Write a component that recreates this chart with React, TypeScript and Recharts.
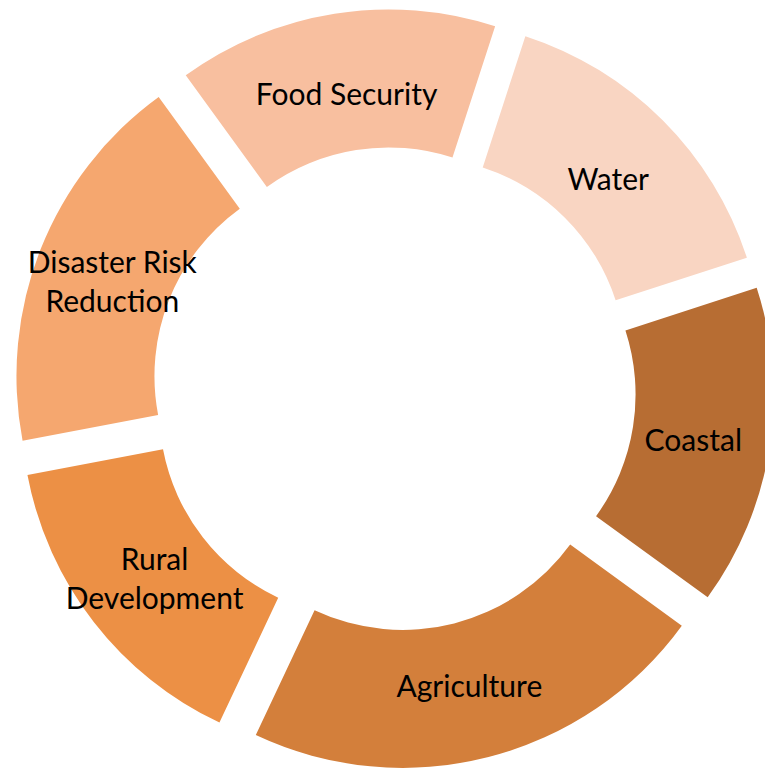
import { PieChart, Pie, Cell, Sector } from 'recharts';

// slices listed clockwise, starting just right of 12 o'clock
const categories = ['Water', 'Coastal', 'Agriculture', 'Rural Development', 'Disaster Risk Reduction', 'Food Security'];
const shares = [15, 15, 22, 15, 18, 15];
const labelLines = [['Water'], ['Coastal'], ['Agriculture'], ['Rural', 'Development'], ['Disaster Risk', 'Reduction'], ['Food Security']];
const colors = ['#F9D5C2', '#B76D33', '#D37F3B', '#EC9045', '#F5A76F', '#F8BF9F'];

const data = categories.map((name, i) => ({ name, value: shares[i] }));

const RADIAN = Math.PI / 180;
const EXPLODE = 35; // how far each slice is pulled out of the ring

const ExplodedSector = (props: any) => {
  const { cx, cy, midAngle, innerRadius, outerRadius, startAngle, endAngle, fill } = props;
  const dx = EXPLODE * Math.cos(-midAngle * RADIAN);
  const dy = EXPLODE * Math.sin(-midAngle * RADIAN);
  return (
    <Sector
      cx={cx + dx}
      cy={cy + dy}
      innerRadius={innerRadius}
      outerRadius={outerRadius}
      startAngle={startAngle}
      endAngle={endAngle}
      fill={fill}
      stroke="none"
    />
  );
};

const renderLabel = (props: any) => {
  const { cx, cy, midAngle, innerRadius, outerRadius, index } = props;
  const r = EXPLODE + (innerRadius + outerRadius) / 2 - 8;
  const x = cx + r * Math.cos(-midAngle * RADIAN);
  const y = cy + r * Math.sin(-midAngle * RADIAN) + 3;
  const lines = labelLines[index];
  const lineH = 39;
  const top = y - ((lines.length - 1) * lineH) / 2;
  return (
    <text
      x={x}
      y={top}
      textAnchor="middle"
      dominantBaseline="central"
      fill="#000"
      fontSize={30}
      fontFamily="Lato, 'Open Sans', sans-serif"
    >
      {lines.map((ln, i) => (
        <tspan key={ln} x={x} y={top + i * lineH}>
          {ln}
        </tspan>
      ))}
    </text>
  );
};

export default function App() {
  const pieProps: any = {
    shape: ExplodedSector,
    activeShape: ExplodedSector,
    inactiveShape: ExplodedSector,
  };
  return (
    <div
      style={{
        position: 'fixed',
        left: 0,
        top: 0,
        width: 765,
        height: 768,
        overflow: 'hidden',
        background: '#fff',
      }}
    >
      <PieChart width={765} height={768} margin={{ top: 0, right: 0, bottom: 0, left: 0 }}>
        <Pie
          data={data}
          dataKey="value"
          nameKey="name"
          cx={394}
          cy={389}
          innerRadius={207}
          outerRadius={345}
          startAngle={72}
          endAngle={-288}
          stroke="none"
          isAnimationActive={false}
          {...pieProps}
          label={renderLabel}
          labelLine={false}
        >
          {data.map((d, i) => (
            <Cell key={d.name} fill={colors[i]} />
          ))}
        </Pie>
      </PieChart>
    </div>
  );
}
